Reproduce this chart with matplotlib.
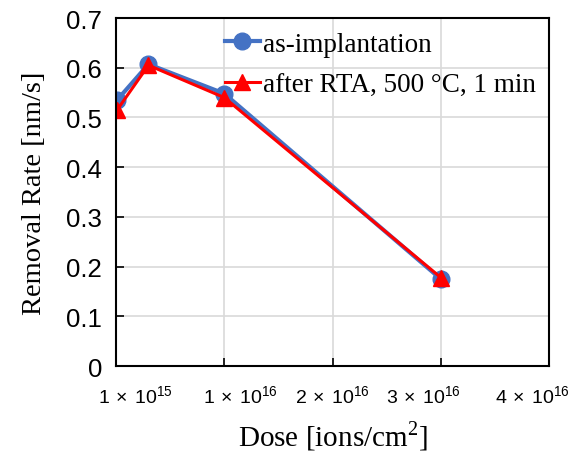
import matplotlib
matplotlib.use("Agg")
import matplotlib.pyplot as plt

plt.rcParams['mathtext.fontset'] = 'custom'
plt.rcParams['mathtext.rm'] = 'Liberation Sans'

# dose in units of 1e16 ions/cm2 (position on the axis)
dose = [0.01, 0.3, 1.0, 3.0]
as_impl = [0.535, 0.607, 0.548, 0.175]
after_rta = [0.515, 0.605, 0.540, 0.178]

grid_ticks = [1, 2, 3]
label_pos = [0.18, 1.15, 2.001, 2.84, 3.85]
label_txt = [r'1$\,\times\,$10$^{15}$', r'1$\,\times\,$10$^{16}$', r'2$\,\times\,$10$^{16}$',
             r'3$\,\times\,$10$^{16}$', r'4$\,\times\,$10$^{16}$']
yticks = [0, 0.1, 0.2, 0.3, 0.4, 0.5, 0.6, 0.7]

fig = plt.figure(figsize=(5.8, 4.64), dpi=100)
ax = fig.add_axes([0.2, 0.209, 0.7466, 0.75])

ax.plot(dose, as_impl, '-o', color='#4472C4', lw=3, ms=12, label='as-implantation')
ax.plot(dose, after_rta, '-^', color='#FF0000', lw=2.2, ms=12, label='after RTA, 500 °C, 1 min')

ax.set_xlim(0, 4)
ax.set_ylim(0, 0.7)
ax.set_xticks(grid_ticks)
ax.set_xticklabels([])
ax.set_xticks(label_pos, minor=True)
ax.set_xticklabels(label_txt, minor=True, fontsize=14, family='Liberation Sans')
ax.tick_params(axis='x', which='minor', length=0, pad=13)
ax.tick_params(axis='x', which='major', direction='in', length=6, width=1.2)
ax.set_yticks(yticks)
ax.set_yticklabels(['0', '0.1', '0.2', '0.3', '0.4', '0.5', '0.6', '0.7'],
                   fontsize=18.5, family='Liberation Sans')
ax.tick_params(axis='y', direction='in', length=6, width=1.2, pad=10)
ax.grid(True, which='major', color='#d9d9d9', lw=1.2)
ax.set_axisbelow(True)
for s in ax.spines.values():
    s.set_linewidth(1.5)

ax.set_xlabel('Dose [ions/cm$^{\\mathregular{2}}$]', fontsize=21, family='Liberation Serif', labelpad=8)
ax.set_ylabel('Removal Rate [nm/s]', fontsize=20.5, family='Liberation Serif', labelpad=14)

leg = ax.legend(loc='upper right', frameon=False, prop={'family': 'Liberation Serif', 'size': 19.5},
                handlelength=1.3, handletextpad=0.1, borderaxespad=0.1, labelspacing=0.6)

fig.savefig('out.png', dpi=100)
